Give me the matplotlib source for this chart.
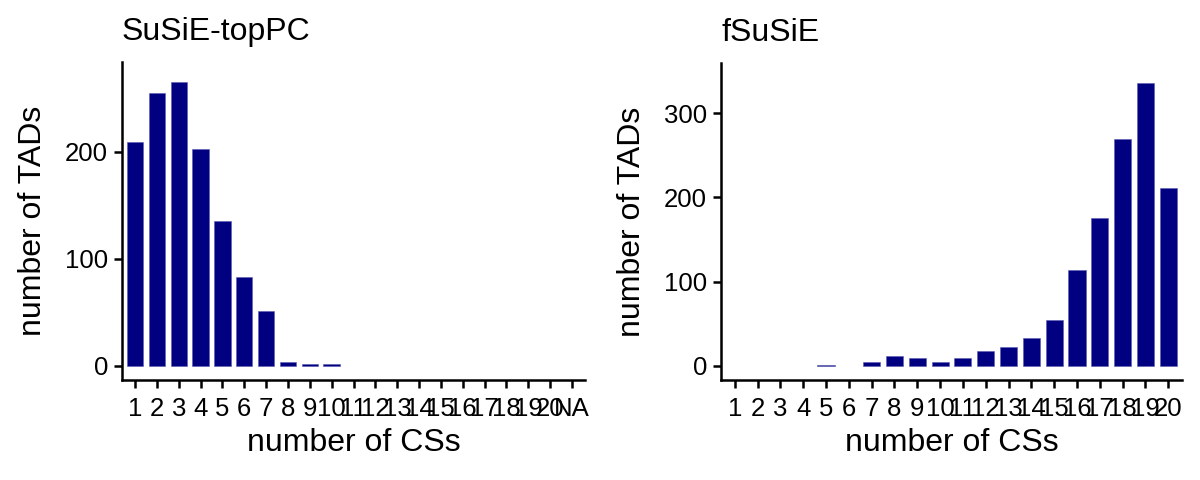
import matplotlib
matplotlib.use("Agg")
import matplotlib.pyplot as plt
import numpy as np

plt.rcParams['font.family'] = ['Liberation Sans', 'DejaVu Sans']

# data
left_cats = [str(i) for i in range(1, 21)] + ["NA"]
left_vals = [209, 255, 265, 202, 135, 83, 51, 4, 1.5, 1.5,
             0, 0, 0, 0, 0, 0, 0, 0, 0, 0, 0]
right_cats = [str(i) for i in range(1, 21)]
right_vals = [0, 0, 0, 0, 1.5, 0, 5, 12, 9, 5,
              9, 18, 22, 33, 54, 114, 175, 269, 336, 211]

bar_col = "#000080"

fig = plt.figure(figsize=(12, 4.8), dpi=100)
ax1 = fig.add_axes([122/1200, 100/480, 463/1200, 318/480])
ax2 = fig.add_axes([721/1200, 100/480, 461/1200, 317/480])

def draw(ax, cats, vals, title, yticks):
    x = np.arange(len(cats))
    keep = [i for i, v in enumerate(vals) if v > 0]
    ax.bar(x[keep], [vals[i] for i in keep], width=0.75, color=bar_col,
           edgecolor="#5a5ab0", linewidth=0.4)
    ax.set_xticks(x)
    ax.set_xticklabels(cats)
    ax.set_xlim(-0.6, len(cats) - 1 + 0.6)
    top = max(vals)
    ax.set_ylim(-0.05 * top, top * 1.07)
    ax.set_yticks(yticks)
    for s in ["top", "right"]:
        ax.spines[s].set_visible(False)
    for s in ["left", "bottom"]:
        ax.spines[s].set_linewidth(1.8)
    ax.tick_params(axis="both", direction="out", length=6, width=1.8, labelsize=18.5, pad=4)
    ax.tick_params(axis="x", pad=6)
    ax.set_xlabel("number of CSs", fontsize=23, labelpad=5)
    ax.set_ylabel("number of TADs", fontsize=23, labelpad=12)
    ax.set_title(title, loc="left", fontsize=23, pad=16)

draw(ax1, left_cats, left_vals, "SuSiE-topPC", [0, 100, 200])
draw(ax2, right_cats, right_vals, "fSuSiE", [0, 100, 200, 300])

fig.savefig("out.png", dpi=100)
